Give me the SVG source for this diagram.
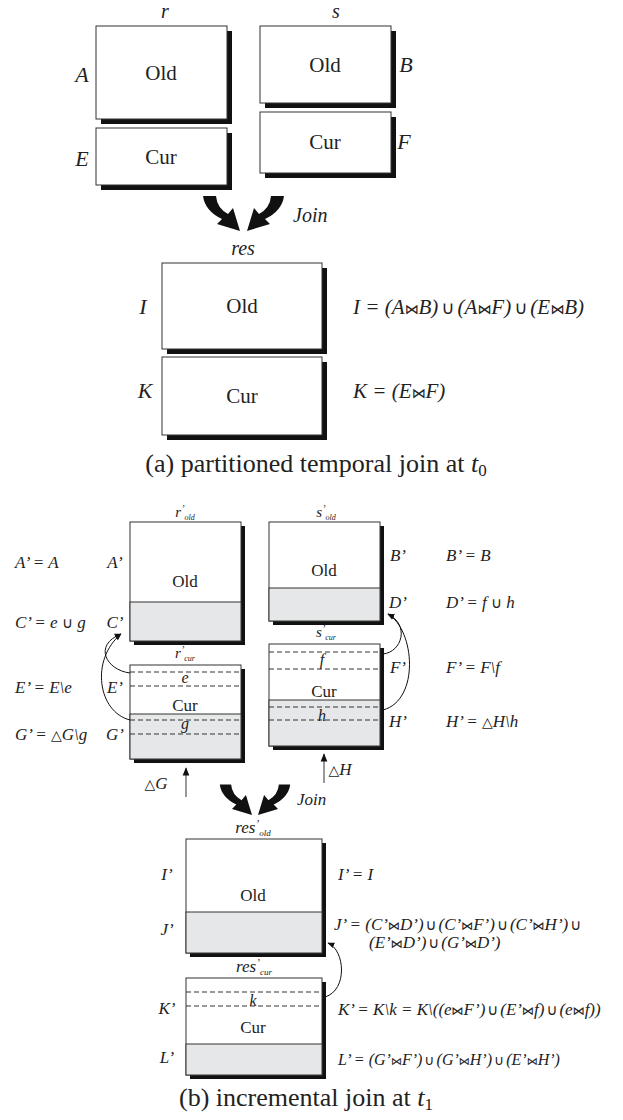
<svg xmlns="http://www.w3.org/2000/svg" width="623" height="1120" viewBox="0 0 623 1120">
<style>
.bg{fill:#fff}
.box{fill:#fff;stroke:#333;stroke-width:1}
.gray{fill:#e6e7e8;stroke:#333;stroke-width:1}
.sh{fill:#111}
.dash{stroke:#333;stroke-width:1;stroke-dasharray:5 3;fill:none}
.it{font-family:"Liberation Serif","Times New Roman",serif;font-style:italic;fill:#222}
.rm{font-family:"Liberation Serif","Times New Roman",serif;fill:#222}
.op{font-style:normal;font-family:"DejaVu Sans",sans-serif}
.curve{fill:none;stroke:#111;stroke-width:1}
.up{stroke:#555;stroke-width:1.2;fill:none}
</style>
<defs>
<marker id="ah" viewBox="0 0 10 10" refX="9" refY="5" markerWidth="7" markerHeight="7" orient="auto"><path d="M0,1 L10,5 L0,9 Z" fill="#111"/></marker>
<path id="jarrow" d="M-37,-35 L-24,-35 Q-23,-23 -12,-17 L-7,-23 L0,0 L-23,-7 L-18,-12 Q-35,-20 -37,-35 Z" fill="#111"/>
</defs>
<rect class="bg" x="0" y="0" width="623" height="1120"/>

<!-- (a) -->
<g id="r-label"><text class="it" x="165" y="18" font-size="20" text-anchor="middle">r</text></g>
<g id="s-label"><text class="it" x="336" y="18" font-size="20" text-anchor="middle">s</text></g>

<g id="nodeA">
<rect class="sh" x="101" y="31" width="131" height="93"/>
<rect class="box" x="96" y="26" width="131" height="93"/>
<text class="rm" x="161" y="80" font-size="21" text-anchor="middle">Old</text>
<text class="it" x="82" y="82" font-size="22" text-anchor="middle">A</text>
</g>
<g id="nodeE">
<rect class="sh" x="101" y="133" width="131" height="57"/>
<rect class="box" x="96" y="128" width="131" height="57"/>
<text class="rm" x="161" y="164" font-size="21" text-anchor="middle">Cur</text>
<text class="it" x="82" y="166" font-size="22" text-anchor="middle">E</text>
</g>
<g id="nodeB">
<rect class="sh" x="265" y="31" width="131" height="77"/>
<rect class="box" x="260" y="26" width="131" height="77"/>
<text class="rm" x="325" y="72" font-size="21" text-anchor="middle">Old</text>
<text class="it" x="406" y="72" font-size="22" text-anchor="middle">B</text>
</g>
<g id="nodeF">
<rect class="sh" x="265" y="117" width="131" height="61"/>
<rect class="box" x="260" y="112" width="131" height="61"/>
<text class="rm" x="325" y="149" font-size="21" text-anchor="middle">Cur</text>
<text class="it" x="404" y="149" font-size="22" text-anchor="middle">F</text>
</g>

<g id="res-label"><text class="it" x="243" y="255" font-size="20" text-anchor="middle">res</text></g>
<g id="nodeI">
<rect class="sh" x="167" y="268" width="160" height="86"/>
<rect class="box" x="162" y="263" width="160" height="86"/>
<text class="rm" x="242" y="313" font-size="21" text-anchor="middle">Old</text>
<text class="it" x="143" y="314" font-size="22" text-anchor="middle">I</text>
<text class="it" x="353" y="314" font-size="21">I = (A<tspan class="op" font-size="14">⋈</tspan>B)<tspan class="op" font-size="18" dx="3">∪</tspan><tspan dx="3">(A</tspan><tspan class="op" font-size="14">⋈</tspan>F)<tspan class="op" font-size="18" dx="3">∪</tspan><tspan dx="3">(E</tspan><tspan class="op" font-size="14">⋈</tspan>B)</text>
</g>
<g id="nodeK">
<rect class="sh" x="167" y="362" width="160" height="78"/>
<rect class="box" x="162" y="357" width="160" height="78"/>
<text class="rm" x="242" y="403" font-size="21" text-anchor="middle">Cur</text>
<text class="it" x="145" y="398" font-size="22" text-anchor="middle">K</text>
<text class="it" x="353" y="398" font-size="21">K = (E<tspan class="op" font-size="14">⋈</tspan>F)</text>
</g>
<g id="caption-a"><text class="rm" x="316" y="472" font-size="26" text-anchor="middle">(a) partitioned temporal join at <tspan class="it">t</tspan><tspan font-size="17" dy="4">0</tspan></text></g>

<!-- (b) -->
<g id="rold">
<rect class="sh" x="134" y="526" width="111" height="119"/>
<rect class="box" x="130" y="522" width="111" height="119"/>
<rect class="gray" x="130" y="602" width="111" height="39"/>
<text class="it" x="185" y="517" font-size="15" text-anchor="middle">r<tspan font-size="10" dy="-5">’</tspan><tspan font-size="8" dy="8">old</tspan></text>
<text class="rm" x="185" y="587" font-size="17" text-anchor="middle">Old</text>
<text class="it" x="115" y="568" font-size="17" text-anchor="middle">A’</text>
<text class="it" x="115" y="628" font-size="17" text-anchor="middle">C’</text>
<text class="it" x="15" y="568" font-size="17">A’ = A</text>
<text class="it" x="15" y="628" font-size="17">C’ = e <tspan class="op" font-size="15">∪</tspan> g</text>
</g>
<g id="rcur">
<rect class="sh" x="134" y="669" width="111" height="94"/>
<rect class="box" x="130" y="665" width="111" height="94"/>
<rect class="gray" x="130" y="714" width="111" height="45"/>
<line class="dash" x1="130" y1="672" x2="241" y2="672"/>
<line class="dash" x1="130" y1="686" x2="241" y2="686"/>
<line class="dash" x1="130" y1="720" x2="241" y2="720"/>
<line class="dash" x1="130" y1="734" x2="241" y2="734"/>
<text class="it" x="185" y="658" font-size="15" text-anchor="middle">r<tspan font-size="10" dy="-5">’</tspan><tspan font-size="8" dy="8">cur</tspan></text>
<text class="it" x="185" y="683" font-size="16" text-anchor="middle">e</text>
<text class="rm" x="185" y="711" font-size="17" text-anchor="middle">Cur</text>
<text class="it" x="185" y="729" font-size="16" text-anchor="middle">g</text>
<text class="it" x="115" y="693" font-size="17" text-anchor="middle">E’</text>
<text class="it" x="115" y="740" font-size="17" text-anchor="middle">G’</text>
<text class="it" x="15" y="693" font-size="17">E’ = E\e</text>
<text class="it" x="15" y="740" font-size="17">G’ = <tspan class="op" font-size="14">△</tspan>G\g</text>
</g>
<g id="sold">
<rect class="sh" x="273" y="526" width="111" height="99"/>
<rect class="box" x="269" y="522" width="111" height="99"/>
<rect class="gray" x="269" y="588" width="111" height="33"/>
<text class="it" x="326" y="517" font-size="15" text-anchor="middle">s<tspan font-size="10" dy="-5">’</tspan><tspan font-size="8" dy="8">old</tspan></text>
<text class="rm" x="324" y="576" font-size="17" text-anchor="middle">Old</text>
<text class="it" x="398" y="561" font-size="17" text-anchor="middle">B’</text>
<text class="it" x="398" y="608" font-size="17" text-anchor="middle">D’</text>
<text class="it" x="446" y="561" font-size="17">B’ = B</text>
<text class="it" x="446" y="608" font-size="17">D’ = f <tspan class="op" font-size="15">∪</tspan> h</text>
</g>
<g id="scur">
<rect class="sh" x="273" y="648" width="111" height="102"/>
<rect class="box" x="269" y="644" width="111" height="102"/>
<rect class="gray" x="269" y="700" width="111" height="46"/>
<line class="dash" x1="269" y1="652" x2="380" y2="652"/>
<line class="dash" x1="269" y1="669" x2="380" y2="669"/>
<line class="dash" x1="269" y1="707" x2="380" y2="707"/>
<line class="dash" x1="269" y1="720" x2="380" y2="720"/>
<text class="it" x="326" y="637" font-size="15" text-anchor="middle">s<tspan font-size="10" dy="-5">’</tspan><tspan font-size="8" dy="8">cur</tspan></text>
<text class="it" x="322" y="665" font-size="16" text-anchor="middle">f</text>
<text class="rm" x="324" y="697" font-size="17" text-anchor="middle">Cur</text>
<text class="it" x="322" y="721" font-size="16" text-anchor="middle">h</text>
<text class="it" x="398" y="673" font-size="17" text-anchor="middle">F’</text>
<text class="it" x="398" y="727" font-size="17" text-anchor="middle">H’</text>
<text class="it" x="446" y="673" font-size="17">F’ = F\f</text>
<text class="it" x="446" y="727" font-size="17">H’ = <tspan class="op" font-size="14">△</tspan>H\h</text>
</g>
<g id="dG"><text class="it" x="156" y="789" font-size="17" text-anchor="middle"><tspan class="op" font-size="14">△</tspan>G</text></g>
<g id="dH"><text class="it" x="340" y="775" font-size="17" text-anchor="middle"><tspan class="op" font-size="14">△</tspan>H</text></g>

<g id="resold">
<rect class="sh" x="190" y="843" width="136" height="114"/>
<rect class="box" x="186" y="839" width="136" height="114"/>
<rect class="gray" x="186" y="912" width="136" height="41"/>
<text class="it" x="253" y="833" font-size="17" text-anchor="middle">res<tspan font-size="11" dy="-6">’</tspan><tspan font-size="9" dy="9">old</tspan></text>
<text class="rm" x="253" y="901" font-size="17" text-anchor="middle">Old</text>
<text class="it" x="167" y="880" font-size="17" text-anchor="middle">I’</text>
<text class="it" x="167" y="935" font-size="17" text-anchor="middle">J’</text>
<text class="it" x="338" y="880" font-size="17">I’ = I</text>
<text class="it" x="334" y="930" font-size="17">J’ = (C’<tspan class="op" font-size="12">⋈</tspan>D’)<tspan class="op" font-size="15" dx="2">∪</tspan><tspan dx="2">(C’</tspan><tspan class="op" font-size="12">⋈</tspan>F’)<tspan class="op" font-size="15" dx="2">∪</tspan><tspan dx="2">(C’</tspan><tspan class="op" font-size="12">⋈</tspan>H’)<tspan class="op" font-size="15" dx="2">∪</tspan></text>
<text class="it" x="369" y="948" font-size="17">(E’<tspan class="op" font-size="12">⋈</tspan>D’)<tspan class="op" font-size="15" dx="2">∪</tspan><tspan dx="2">(G’</tspan><tspan class="op" font-size="12">⋈</tspan>D’)</text>
</g>
<g id="rescur">
<rect class="sh" x="190" y="982" width="136" height="97"/>
<rect class="box" x="186" y="978" width="136" height="97"/>
<rect class="gray" x="186" y="1044" width="136" height="31"/>
<line class="dash" x1="186" y1="992" x2="322" y2="992"/>
<line class="dash" x1="186" y1="1006" x2="322" y2="1006"/>
<text class="it" x="254" y="972" font-size="17" text-anchor="middle">res<tspan font-size="11" dy="-6">’</tspan><tspan font-size="9" dy="9">cur</tspan></text>
<text class="it" x="253" y="1006" font-size="16" text-anchor="middle">k</text>
<text class="rm" x="253" y="1033" font-size="17" text-anchor="middle">Cur</text>
<text class="it" x="167" y="1014" font-size="17" text-anchor="middle">K’</text>
<text class="it" x="167" y="1063" font-size="17" text-anchor="middle">L’</text>
<text class="it" x="338" y="1015" font-size="17">K’ = K\k = K\((e<tspan class="op" font-size="12">⋈</tspan>F’)<tspan class="op" font-size="15" dx="2">∪</tspan><tspan dx="2">(E’</tspan><tspan class="op" font-size="12">⋈</tspan>f)<tspan class="op" font-size="15" dx="2">∪</tspan><tspan dx="2">(e</tspan><tspan class="op" font-size="12">⋈</tspan>f))</text>
<text class="it" x="338" y="1065" font-size="16">L’ = (G’<tspan class="op" font-size="11">⋈</tspan>F’)<tspan class="op" font-size="14" dx="2">∪</tspan><tspan dx="2">(G’</tspan><tspan class="op" font-size="11">⋈</tspan>H’)<tspan class="op" font-size="14" dx="2">∪</tspan><tspan dx="2">(E’</tspan><tspan class="op" font-size="11">⋈</tspan>H’)</text>
</g>
<g id="caption-b"><text class="rm" x="306" y="1106" font-size="26" text-anchor="middle">(b) incremental join at <tspan class="it">t</tspan><tspan font-size="17" dy="4">1</tspan></text></g>

<g id="connectors">
<use href="#jarrow" transform="translate(240,231)"/>
<use href="#jarrow" transform="translate(247,231) scale(-1,1)"/>
<text class="it" x="293" y="222" font-size="20">Join</text>
<use href="#jarrow" transform="translate(252,815) scale(0.87)"/>
<use href="#jarrow" transform="translate(258,815) scale(-0.87,0.87)"/>
<text class="it" x="297" y="805" font-size="17">Join</text>
<path class="curve" d="M130,673 C106,670 93,645 121,634" marker-end="url(#ah)"/>
<path class="curve" d="M130,720 C98,712 90,660 121,634" marker-end="url(#ah)"/>
<path class="curve" d="M383,654 C402,652 410,625 388,614" marker-end="url(#ah)"/>
<path class="curve" d="M383,710 C420,700 415,630 388,614" marker-end="url(#ah)"/>
<path class="curve" d="M325,997 C348,990 345,950 328,943" marker-end="url(#ah)"/>
<line class="up" x1="186" y1="797" x2="186" y2="768" marker-end="url(#ah)"/>
<line class="up" x1="324" y1="783" x2="324" y2="754" marker-end="url(#ah)"/>
</g>
</svg>
